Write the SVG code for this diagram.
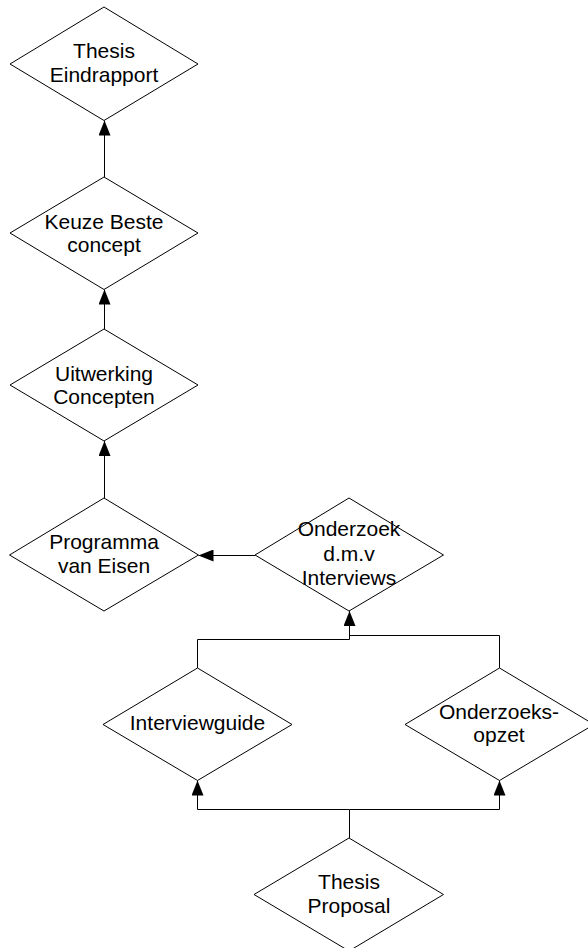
<svg xmlns="http://www.w3.org/2000/svg" width="588" height="948" viewBox="0 0 588 948">
  <style>
    .node polygon { fill: #ffffff; stroke: #000000; stroke-width: 1; }
    .node text { font-family: "Liberation Sans", Arial, sans-serif; font-size: 21px; fill: #000000; text-anchor: middle; }
    .conn path { fill: none; stroke: #000000; stroke-width: 1; }
  </style>
  <defs>
    <marker id="arrow" viewBox="0 0 15 12" refX="15" refY="6" markerWidth="15" markerHeight="12" markerUnits="userSpaceOnUse" orient="auto">
      <path d="M0,0 L15,6 L0,12 Z" fill="#000000"/>
    </marker>
  </defs>
  <rect width="588" height="948" fill="#ffffff"/>

  <g id="connectors" class="conn">
    <path d="M104.5,177 V120.5" marker-end="url(#arrow)"/>
    <path d="M104.5,329 V289.5" marker-end="url(#arrow)"/>
    <path d="M104.5,498 V441" marker-end="url(#arrow)"/>
    <path d="M255,555.5 H198.5" marker-end="url(#arrow)"/>
    <path d="M197.5,668 V639.5 H349.5 V611" marker-end="url(#arrow)"/>
    <path d="M499.5,668 V635.5 H349.5"/>
    <path d="M349.5,838 V809.5 H197.5 V780.5" marker-end="url(#arrow)"/>
    <path d="M349.5,809.5 H499.5 V780.5" marker-end="url(#arrow)"/>
  </g>

  <g id="thesis-eindrapport" class="node">
    <polygon points="104,7 198,64 104,120.5 10,64"/>
    <text x="104" y="58">Thesis</text>
    <text x="104" y="82">Eindrapport</text>
  </g>
  <g id="keuze-beste-concept" class="node">
    <polygon points="104,177 198,233 104,289.5 10,233"/>
    <text x="104" y="229">Keuze Beste</text>
    <text x="104" y="252">concept</text>
  </g>
  <g id="uitwerking-concepten" class="node">
    <polygon points="104,329 198,385 104,441 10,385"/>
    <text x="104" y="380.5">Uitwerking</text>
    <text x="104" y="403.5">Concepten</text>
  </g>
  <g id="programma-van-eisen" class="node">
    <polygon points="104,498 198.5,555 104,611 9.5,555"/>
    <text x="104" y="548.5">Programma</text>
    <text x="104" y="573">van Eisen</text>
  </g>
  <g id="onderzoek-interviews" class="node">
    <polygon points="349,498 443.5,555 349,611 255,555"/>
    <text x="349" y="536">Onderzoek</text>
    <text x="349" y="560.5">d.m.v</text>
    <text x="349" y="585">Interviews</text>
  </g>
  <g id="interviewguide" class="node">
    <polygon points="197.5,668 292,724.5 197.5,780.5 103,724.5"/>
    <text x="197.5" y="730">Interviewguide</text>
  </g>
  <g id="onderzoeks-opzet" class="node">
    <polygon points="499.5,668 594,724.5 499.5,780.5 405,724.5"/>
    <text x="499" y="718.5">Onderzoeks-</text>
    <text x="499" y="741.5">opzet</text>
  </g>
  <g id="thesis-proposal" class="node">
    <polygon points="349,838 443.5,894.5 349,951 254,894.5"/>
    <text x="349" y="888.5">Thesis</text>
    <text x="349" y="913">Proposal</text>
  </g>
</svg>
